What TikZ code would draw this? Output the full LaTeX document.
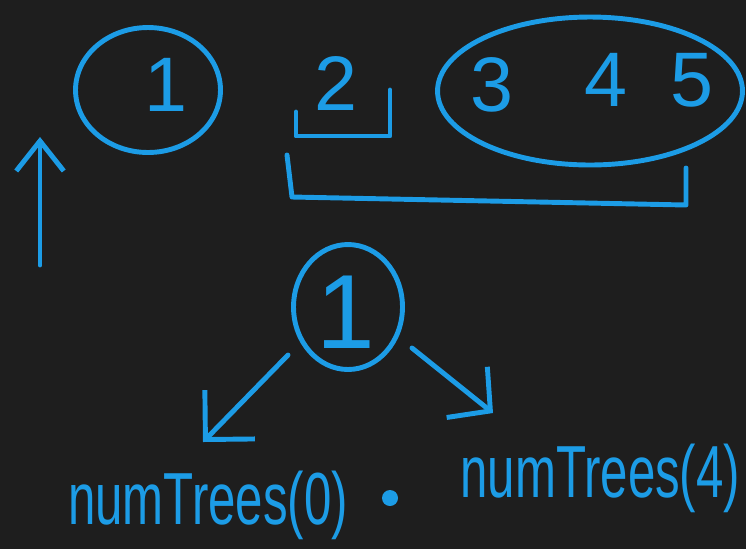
\documentclass[tikz,border=0pt]{standalone}
\usepackage{fontspec}
\setmainfont{Liberation Sans}
\usetikzlibrary{shapes.geometric,arrows.meta}
\definecolor{board}{HTML}{1E1E1E}
\definecolor{ink}{HTML}{1C9CE6}
\newcommand\handtall[1]{\scalebox{1}[1.5]{#1}}

\begin{document}
\begin{tikzpicture}[x=0.02cm, y=-0.02cm,
  pen/.style={draw=ink, line width=2.8pt, line cap=round, line join=round},
  ring/.style={pen, ellipse, inner sep=0pt},
  digit/.style={text=ink, inner sep=0pt, font=\fontsize{44}{48}\selectfont},
  word/.style={text=ink, inner sep=0pt, font=\fontsize{28}{32}\selectfont},
  arr/.style={pen, -{Straight Barb[length=0.7cm, width=1.4cm]}}]

  \fill[board] (0,0) rectangle (746,549);
  \clip (0,0) rectangle (746,549);

  % Up arrow on the left
  \coordinate (up0) at (40,265);
  \coordinate (up1) at (40,137);
  \draw[pen, -{Straight Barb[length=0.6cm, width=0.95cm]}] (up0) -- (up1);

  % Top row: 1 | 2 | 3 4 5
  \begin{scope}
    \node[ring, minimum width=2.9cm, minimum height=2.5cm] (ringA) at (148,90) {};
    \node[digit] (one) at (166,85) {1};

    \node[digit] (two) at (336,84) {2};
    \coordinate (boxA) at (296,112);
    \coordinate (boxB) at (296,136);
    \coordinate (boxC) at (390,136);
    \coordinate (boxD) at (390,90);
    \draw[pen] (boxA) -- (boxB) -- (boxC) -- (boxD);

    \node[ring, minimum width=6.1cm, minimum height=2.96cm] (ringB) at (590,91) {};
    \node[digit] (three) at (492,85) {3};
    \node[digit] (four) at (606,80) {4};
    \node[digit] (five) at (692,80) {5};

    \coordinate (brA) at (287,155);
    \coordinate (brB) at (292,197);
    \coordinate (brC) at (686,205);
    \coordinate (brD) at (686,168);
    \draw[pen] (brA) -- (brB) -- (brC) -- (brD);
  \end{scope}

  % Root 1 and its two subtrees
  \begin{scope}
    \node[ring, minimum width=2.18cm, minimum height=2.5cm] (root) at (348,307) {};
    \node[digit, font=\fontsize{60}{64}\selectfont] (rootnum) at (346,312) {1};

    \coordinate (legL) at (288,355);
    \coordinate (tipL) at (203,442);
    \coordinate (legR) at (412,348);
    \coordinate (tipR) at (493,413);
    \draw[arr] (legL) -- (tipL);
    \draw[arr, -{Straight Barb[length=0.6cm, width=1.3cm]}] (legR) -- (tipR);

    \node[word] (left) at (208,505) {\handtall{numTrees(0)}};
    \fill[ink] (390,498) circle (8) node (times) {};
    \node[word, anchor=west] (right) at (460,478) {\handtall{numTrees(4)}};
  \end{scope}

\end{tikzpicture}
\end{document}
